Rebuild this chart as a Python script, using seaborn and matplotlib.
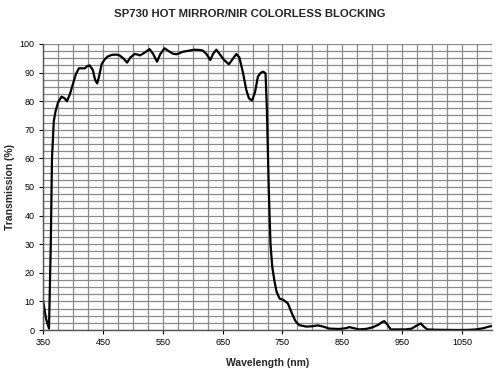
import numpy as np
import pandas as pd
import matplotlib
matplotlib.use("Agg")
import matplotlib.pyplot as plt
import seaborn as sns
from matplotlib.ticker import MultipleLocator

wavelength = [350, 355, 360, 363, 365, 368, 371, 375, 381, 386, 390, 395, 400, 405, 410, 415, 420,
              424, 428, 433, 437, 440.5, 444, 448, 453, 458, 465, 472, 478, 484, 490.5, 496, 503,
              508, 512, 520, 528, 534, 540.5, 546, 553, 560, 567, 573, 578, 584, 592, 603, 612,
              617, 623, 629.5, 634, 639.5, 645, 652, 660.5, 666, 673, 678, 684, 689.5, 694, 699,
              704, 709, 714, 718, 721.7, 724, 727, 730, 733, 736.7, 740, 745, 751.7, 759, 767,
              772, 778, 789.5, 800, 809, 818, 828, 845, 855, 862, 870, 878, 890, 900, 910, 916,
              920, 924, 931, 945, 956, 966, 973, 981, 986, 992, 1005, 1020, 1045, 1060, 1073,
              1085, 1095, 1100]
transmission = [10.5, 4, 0.5, 30, 60, 73, 76.5, 79.5, 81.6, 81, 80, 82.5, 86, 89.5, 91.5, 91.5, 91.5,
                92.3, 92.5, 91, 87.5, 86.2, 89, 93, 94.6, 95.6, 96.2, 96.3, 96, 95, 93.5, 95.3, 96.5,
                96.3, 96, 97, 98.2, 96.5, 93.8, 96.5, 98.5, 97.5, 96.6, 96.4, 96.8, 97.3, 97.6, 98,
                97.9, 97.7, 96.5, 94.4, 96.5, 98, 96.5, 94.5, 92.9, 94.5, 96.5, 95.3, 90, 84, 81,
                80.2, 83, 88.6, 90, 90.3, 89.7, 77, 50, 30, 22, 17, 13.5, 11, 10.5, 9.3, 5.2,
                3, 1.7, 1.2, 1.3, 1.6, 1.2, 0.5, 0.35, 0.6, 1.0, 0.6, 0.2, 0.4, 0.9, 1.8, 2.7,
                3.1, 2.2, 0.2, 0.2, 0.2, 0.5, 1.4, 2.3, 1.2, 0.2, 0.1, 0.05, 0.0, 0.05, 0.2,
                0.6, 1.2, 1.4]

x_ticks = [350, 450, 550, 650, 750, 850, 950, 1050]
y_ticks = [0, 10, 20, 30, 40, 50, 60, 70, 80, 90, 100]

df = pd.DataFrame({"Wavelength (nm)": wavelength, "Transmission (%)": transmission})

sns.set_style("white")
plt.rcParams['font.family'] = ['Liberation Sans', 'DejaVu Sans']

fig = plt.figure(figsize=(5, 3.75), dpi=100)
ax = fig.add_axes([0.086, 0.12, 0.898, 0.7627])

ax.set_xlim(350, 1100)
ax.set_ylim(0, 100)
ax.xaxis.set_minor_locator(MultipleLocator(25))
ax.yaxis.set_minor_locator(MultipleLocator(2.5))
ax.grid(which='both', axis='both', color='#8a8a8a', linewidth=0.9)
ax.set_axisbelow(True)

sns.lineplot(data=df, x="Wavelength (nm)", y="Transmission (%)", ax=ax, color='black',
             linewidth=1.6, sort=False, estimator=None)

ax.set_xticks(x_ticks)
ax.set_yticks(y_ticks)
ax.tick_params(axis='both', which='major', direction='out', length=3, width=0.8,
               labelsize=6.5, colors='black', pad=3, bottom=True, left=True)
ax.tick_params(axis='both', which='minor', length=0)

for side in ['top', 'right']:
    ax.spines[side].set_visible(False)
for side in ['left', 'bottom']:
    ax.spines[side].set_color('#555555')
    ax.spines[side].set_linewidth(1.0)

ax.set_xlabel("Wavelength (nm)", fontsize=7.5, fontweight='bold', labelpad=8)
ax.set_ylabel("Transmission (%)", fontsize=7.5, fontweight='bold', labelpad=3)
ax.yaxis.set_label_coords(-0.062, 0.5)
fig.suptitle("SP730 HOT MIRROR/NIR COLORLESS BLOCKING", fontsize=8.2, fontweight='bold',
             x=0.5, y=0.975)

fig.savefig("out.png", dpi=100)
